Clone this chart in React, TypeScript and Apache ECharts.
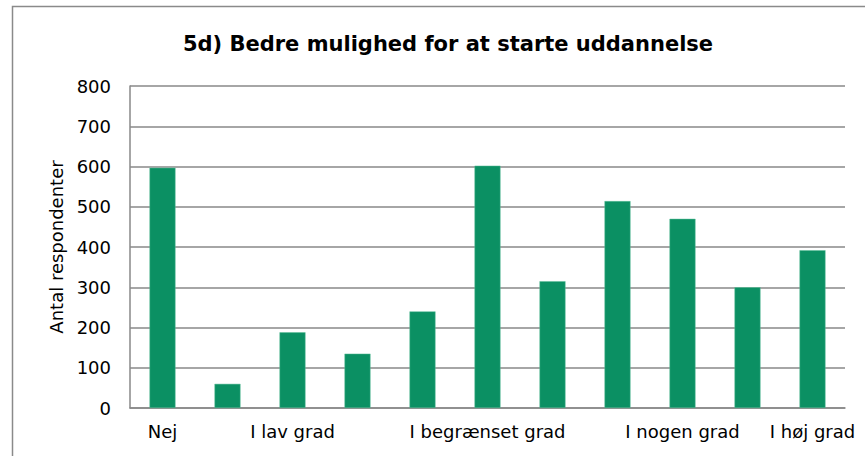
import React, { useEffect, useRef } from "react";
import * as echarts from "echarts";

const title = "5d) Bedre mulighed for at starte uddannelse";
const yAxisName = "Antal respondenter";
const categories = ["Nej", "", "I lav grad", "", "", "I begrænset grad", "", "", "I nogen grad", "", "I høj grad"];
const values = [597, 60, 188, 135, 240, 602, 315, 514, 470, 300, 392];
const yTicks = [0, 100, 200, 300, 400, 500, 600, 700, 800];

const FONT = "'DejaVu Sans', Verdana, sans-serif";

export default function App() {
  const ref = useRef<HTMLDivElement>(null);
  useEffect(() => {
    if (!ref.current) return;
    const chart = echarts.init(ref.current, undefined, { renderer: "svg" });
    chart.setOption({
      animation: false,
      backgroundColor: "#ffffff",
      title: {
        text: title,
        left: 443,
        top: 28,
        textAlign: "center",
        textStyle: { fontFamily: FONT, fontSize: 21, fontWeight: "bold", color: "#000" },
      },
      graphic: [
        {
          type: "rect",
          shape: { x: 12.5, y: 6.5, width: 900, height: 500 },
          style: { fill: "none", stroke: "#8a8a8a", lineWidth: 1.5 },
          silent: true,
        },
      ],
      grid: { left: 130, right: 20, top: 86, bottom: 48, containLabel: false },
      xAxis: {
        type: "category",
        data: categories,
        axisLine: { lineStyle: { color: "#888", width: 1.5 } },
        axisTick: { show: false },
        axisLabel: { interval: 0, margin: 14, fontFamily: FONT, fontSize: 18, color: "#000" },
      },
      yAxis: {
        type: "value",
        min: yTicks[0],
        max: yTicks[yTicks.length - 1],
        interval: 100,
        name: yAxisName,
        nameLocation: "middle",
        nameGap: 60,
        nameTextStyle: { fontFamily: FONT, fontSize: 18, color: "#000" },
        axisLine: { show: true, lineStyle: { color: "#888", width: 1.5 } },
        axisTick: { show: false },
        splitLine: { lineStyle: { color: "#888", width: 1.5 } },
        axisLabel: { margin: 19, fontFamily: FONT, fontSize: 18, color: "#000" },
      },
      series: [
        {
          type: "bar",
          data: values,
          barWidth: 26,
          itemStyle: { color: "#0b9063", borderColor: "#5fbf9a", borderWidth: 0.5 },
        },
      ],
    });
    return () => chart.dispose();
  }, []);
  return (
    <div
      ref={ref}
      style={{ position: "fixed", left: 0, top: 0, width: 865, height: 456 }}
    />
  );
}
